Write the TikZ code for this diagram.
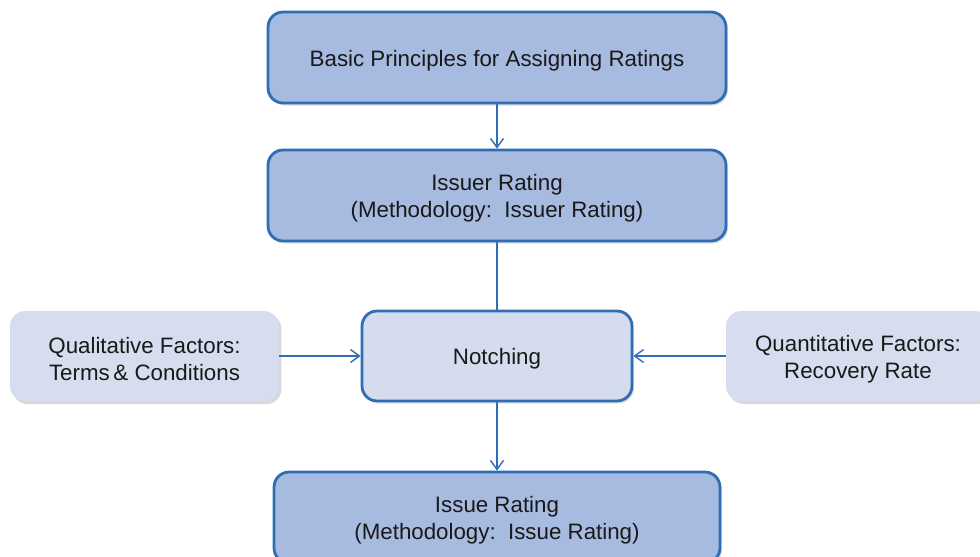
\documentclass[tikz,border=0pt]{standalone}
\usepackage{fontspec}
\setmainfont{Liberation Sans}
\usetikzlibrary{arrows.meta,positioning,shadows}

\definecolor{ratingfill}{HTML}{A7BADF}
\definecolor{ratingedge}{HTML}{2F6DB5}
\definecolor{notchfill}{HTML}{D5DCEE}
\definecolor{factorfill}{HTML}{D6DDEE}

\begin{document}
\begin{tikzpicture}[
    x=0.02cm, y=-0.02cm,
    rating/.style={rectangle, draw=ratingedge, fill=ratingfill, line width=1.6pt, rounded corners=0.3cm, minimum width=9.16cm, minimum height=1.82cm, align=center, font=\fontsize{12.7}{15.5}\selectfont, text=black!90, drop shadow={opacity=0.25, shadow xshift=0.04cm, shadow yshift=-0.05cm}},
    notch/.style={rectangle, draw=ratingedge, fill=notchfill, line width=1.6pt, rounded corners=0.3cm, minimum width=5.4cm, minimum height=1.8cm, align=center, font=\fontsize{12.7}{15.5}\selectfont, text=black!90, drop shadow={opacity=0.25, shadow xshift=0.04cm, shadow yshift=-0.05cm}},
    factor/.style={rectangle, fill=factorfill, rounded corners=0.3cm, minimum width=5.38cm, minimum height=1.8cm, align=center, font=\fontsize{12.7}{15.5}\selectfont, text=black!90, drop shadow={opacity=0.3, shadow xshift=0.05cm, shadow yshift=-0.06cm}},
    oneline/.style={text height=12.6pt},
    twoline/.style={text height=28pt},
    link/.style={draw=ratingedge, line width=0.8pt},
    flow/.style={link, -{Straight Barb[length=1.8mm, width=2.6mm]}}
]

% Canvas - same size as the reference, boxes at the edges are cut off
\useasboundingbox (0,0) rectangle (980,556);
\clip (0,0) rectangle (980,556);

% Main column of rating boxes
\node[rating, oneline] (basic) at (497, 57.5) {Basic Principles for Assigning Ratings};
\node[rating, twoline] (issuer) at (497, 195.5) {Issuer Rating\\(Methodology:\ \ Issuer Rating)};
\node[notch, oneline] (notching) at (497, 356) {Notching};
\node[rating, twoline, minimum width=8.92cm] (issue) at (497, 517.5) {Issue Rating\\(Methodology:\ \ Issue Rating)};

% Factors on both sides
\node[factor, twoline] (qual) at (144.5, 356) {Qualitative Factors:\\Terms\,\& Conditions};
\node[factor, twoline, minimum width=5.28cm] (quant) at (858, 356) {Quantitative Factors:\\Recovery Rate};

% Connectors
\draw[flow] (basic) -- (issuer);
\draw[link] (issuer) -- (notching);
\draw[flow] (notching) -- (issue);
\draw[flow] (qual) -- (notching);
\draw[flow] (quant) -- (notching);

\end{tikzpicture}
\end{document}
